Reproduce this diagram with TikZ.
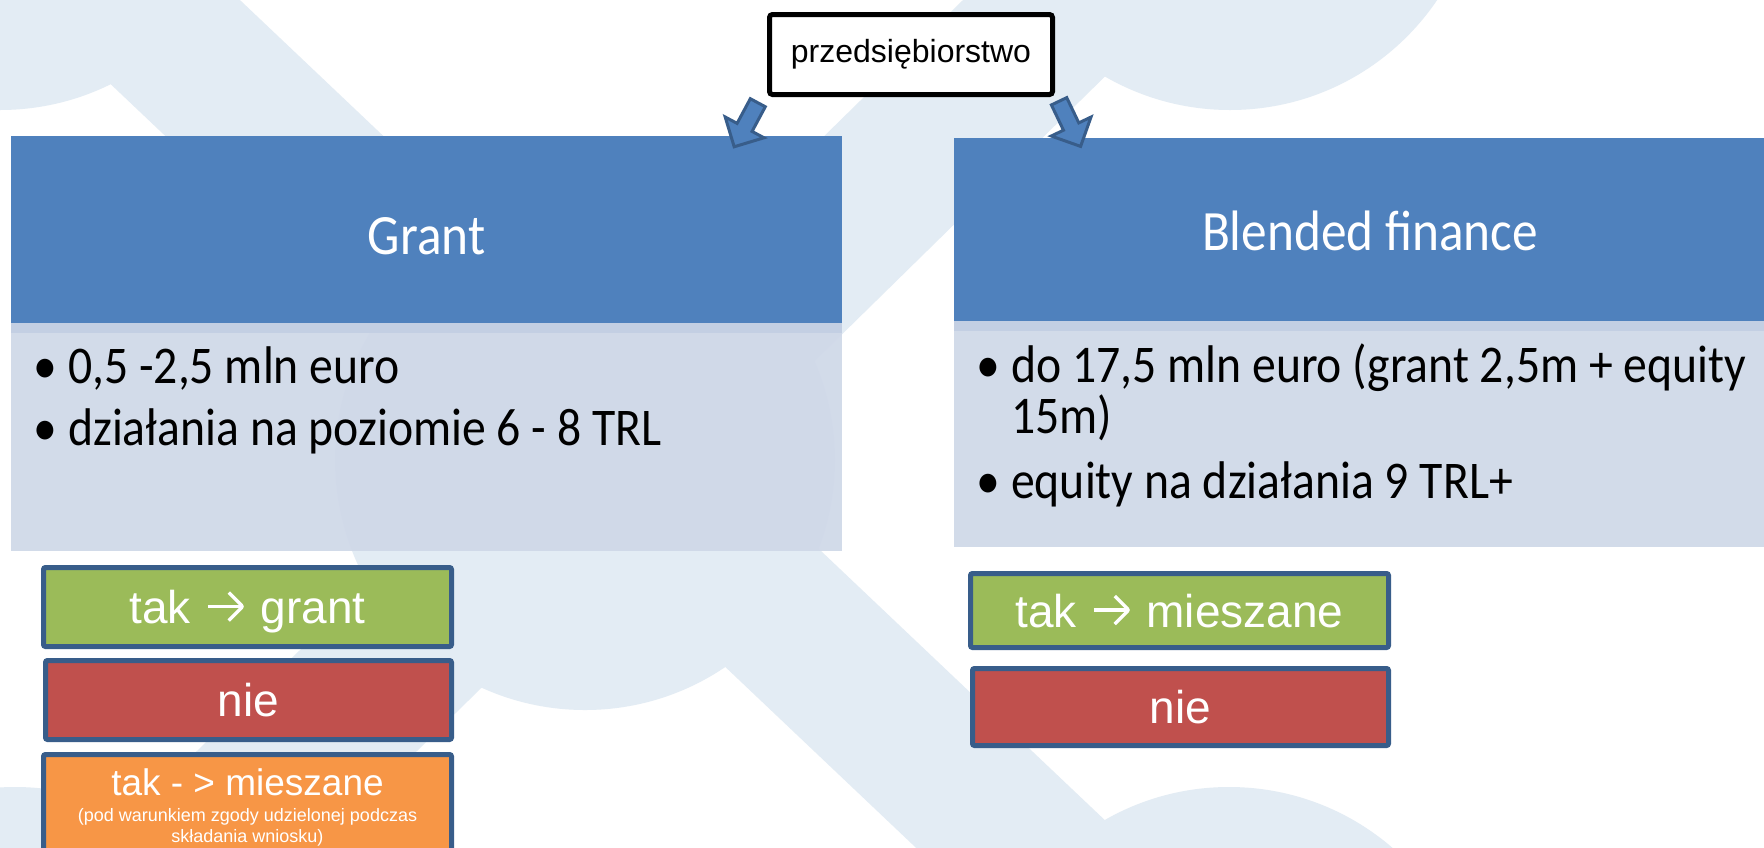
\documentclass[tikz,border=0pt]{standalone}
\usepackage{fontspec}
\setmainfont{Liberation Sans}
\newfontfamily\calibri[FakeStretch=0.9]{Carlito}
\usetikzlibrary{shapes.arrows,positioning}

\definecolor{bgblue}{HTML}{E3ECF4}
\definecolor{headblue}{HTML}{4F81BD}
\definecolor{bodyblue}{HTML}{CFD8E8}
\definecolor{seamblue}{HTML}{C3CFE3}
\definecolor{edgeblue}{HTML}{385D8A}
\definecolor{takgreen}{HTML}{9BBB59}
\definecolor{niered}{HTML}{C0504D}
\definecolor{mixorange}{HTML}{F79646}

\tikzset{
	header/.style={
			fill=headblue, draw=none, inner sep=0pt, text=white,
			text height=37pt, text depth=0pt,
			font=\calibri\fontsize{57}{66}\selectfont
		},
	body/.style={fill=bodyblue, fill opacity=0.92, draw=none, inner sep=0pt},
	bulletline/.style={anchor=base west, inner sep=0pt, font=\calibri\fontsize{53}{62}\selectfont},
	choice/.style={
			draw=edgeblue, line width=5pt, rounded corners=2pt, inner sep=0pt,
			text=white, text height=33pt, text depth=0pt,
			font=\fontsize{46}{52}\selectfont
		},
	blockarrow/.style={
			single arrow, fill=headblue, draw=edgeblue, line width=3pt,
			minimum height=50pt, inner sep=7pt,
			single arrow head extend=13.5pt, single arrow tip angle=90
		}
}
\newcommand{\bul}{\makebox[35pt][l]{•}}
% thin chevron arrow as in the slide
\newcommand{\sarrow}{\tikz[x=1pt,y=1pt,baseline=0pt]{
		\path (-3,0) rectangle (41,32);
		\draw[white, line width=3.5pt] (1,17) -- (36,17);
		\draw[white, line width=3.5pt] (22,31) -- (36,17) -- (22,3);}}

\begin{document}
\begin{tikzpicture}[x=1pt,y=-1pt]
	% Canvas
	\path[fill=white, use as bounding box] (0,0) rectangle (1764,847);

	% Background logo: two crossing bands with round ends
	\fill[bgblue] (-189,-200) -- (29,-200) -- (1400,1100) -- (1182,1100) -- cycle;
	\fill[bgblue] (1167,-200) -- (1387,-200) -- (61,1100) -- (-159,1100) -- cycle;
	\foreach \cx/\cy in {0/-140,1230/-140,585/460,1229/1037,15/1037} {
		\fill[bgblue] (\cx,\cy) circle[radius=250];
	}

	% Column bodies with a seam under the header
	\node[body, minimum width=831pt, minimum height=228pt] (grantBody) at (426.5,437) {};
	\node[body, minimum width=832pt, minimum height=226pt] (blendBody) at (1370,434) {};
	\fill[seamblue] (grantBody.north west) rectangle ++(831,10);
	\fill[seamblue] (blendBody.north west) rectangle ++(832,10);

	% Column headers
	\node[header, minimum width=831pt, minimum height=187pt] (grant) at (426.5,229.5) {};
	\node[header, minimum width=832pt, minimum height=183pt] (blend) at (1370,229.5) {};
	\node[header, fill=none] (grantTitle) at (426.5,236) {Grant};
	\node[header, fill=none] (blendTitle) at (1370,232) {Blended finance};

	% Bullet points
	\node[bulletline] (grantA) at (33,383) {\bul 0,5 -2,5 mln euro};
	\node[bulletline] (grantB) at (33,445) {\bul działania na poziomie 6 - 8 TRL};
	\node[bulletline] (blendA) at (976,382) {\bul do 17,5 mln euro (grant 2,5m + equity};
	\node[bulletline] (blendA2) at (976,433) {\makebox[35pt]{}15m)};
	\node[bulletline] (blendB) at (976,498) {\bul equity na działania 9 TRL+};

	% Top box and block arrows
	\node[draw=black, line width=5pt, rounded corners=3pt, fill=white, inner sep=0pt,
		minimum width=283pt, minimum height=80pt,
		font=\fontsize{32}{38}\selectfont] (firm) at (911,54.5) {przedsiębiorstwo};
	\node[blockarrow, rotate=241.8] (arrGrant) at (748,121) {};
	\node[blockarrow, rotate=-64.5] (arrBlend) at (1068,120) {};

	% Answer boxes under Grant
	\node[choice, fill=takgreen, minimum width=408pt, minimum height=79pt] (grantYes) at (247.5,607) {tak \sarrow{} grant};
	\node[choice, fill=niered, minimum width=406pt, minimum height=79pt] (grantNo) at (248.5,700) {nie};
	\node[choice, fill=mixorange, minimum width=408pt, minimum height=130pt] (grantMix) at (247.5,819.5) {};
	\node[anchor=base, inner sep=0pt, text=white, font=\fontsize{37}{42}\selectfont] (grantMixTitle) at (247.5,795) {tak - > mieszane};
	\node[anchor=base, inner sep=0pt, text=white, align=center, font=\fontsize{18}{21}\selectfont] (grantMixNote) at (247.5,842) {(pod warunkiem zgody udzielonej podczas\\składania wniosku)};

	% Answer boxes under Blended finance
	\node[choice, fill=takgreen, minimum width=418pt, minimum height=74pt] (blendYes) at (1179.5,610.5) {tak \sarrow{} mieszane};
	\node[choice, fill=niered, minimum width=416pt, minimum height=77pt] (blendNo) at (1180.5,707) {nie};
\end{tikzpicture}
\end{document}
